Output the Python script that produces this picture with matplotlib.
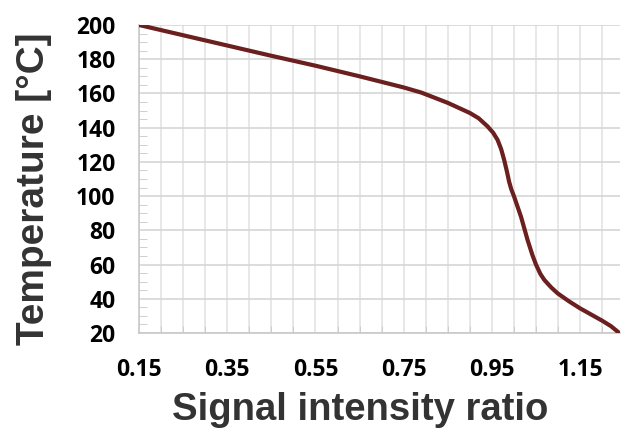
import numpy as np
import matplotlib
matplotlib.use("Agg")
import matplotlib.pyplot as plt
from matplotlib.ticker import MultipleLocator, FixedLocator

# values
ratio = [0.15, 0.25, 0.35, 0.45, 0.55, 0.65, 0.75, 0.79, 0.85, 0.90,
         0.92, 0.94, 0.953, 0.963, 0.971, 0.978, 0.984, 0.989, 0.994, 1.00,
         1.016, 1.031, 1.042, 1.05, 1.06, 1.069, 1.085, 1.099, 1.125, 1.15,
         1.175, 1.20, 1.22, 1.239]
temp = [200, 194, 188, 182, 176.2, 170, 163.5, 160.5, 154.5, 148.6,
        145.5, 140.8, 137, 132.8, 127.5, 121, 114.5, 108.5, 104, 100,
        88, 74.3, 65.5, 60, 54.5, 51, 46.5, 43.2, 38.5, 34.4,
        30.8, 27.2, 24, 20]

x_ticks = [0.15, 0.35, 0.55, 0.75, 0.95, 1.15]
y_ticks = [20, 40, 60, 80, 100, 120, 140, 160, 180, 200]

fig = plt.figure(figsize=(6.21, 4.28), dpi=100)
ax = fig.add_axes([0.224, 0.222, 0.774, 0.7196])

ax.plot(ratio, temp, color="#6b1f1f", lw=3, solid_capstyle="round",
        solid_joinstyle="round", zorder=3)

ax.set_xlim(0.15, 1.24)
ax.set_ylim(20, 200)
ax.xaxis.set_major_locator(FixedLocator(x_ticks))
ax.xaxis.set_minor_locator(MultipleLocator(0.05))
ax.yaxis.set_major_locator(FixedLocator(y_ticks))
ax.yaxis.set_minor_locator(MultipleLocator(5))

ax.grid(axis="x", which="both", color="#e3e3e3", lw=1.2)
ax.grid(axis="y", which="major", color="#d6d6d6", lw=1.2)
ax.set_axisbelow(True)

for s in ["top", "right"]:
    ax.spines[s].set_visible(False)
for s in ["left", "bottom"]:
    ax.spines[s].set_color("#c8c8c8")
    ax.spines[s].set_linewidth(1.2)

ax.tick_params(axis="both", which="both", direction="in", color="#c8c8c8")
ax.tick_params(axis="x", which="major", length=0, pad=18)
ax.tick_params(axis="x", which="minor", length=5)
ax.tick_params(axis="y", which="major", length=0, pad=17)
ax.tick_params(axis="y", which="minor", length=6)

for lab in ax.get_xticklabels() + ax.get_yticklabels():
    lab.set_fontfamily("Open Sans")
    lab.set_fontweight("bold")
    lab.set_fontsize(16.5)
    lab.set_color("black")

ax.set_xlabel("Signal intensity ratio", fontfamily="Liberation Sans",
              fontweight="bold", fontsize=27.5, color="#333333")
ax.xaxis.set_label_coords(0.46, -0.2825)
ax.xaxis.label.set_va("baseline")
ax.set_ylabel("Temperature [°C]", fontfamily="Liberation Sans",
              fontweight="bold", fontsize=28, color="#333333")
ax.yaxis.set_label_coords(-0.218, 0.467)
ax.yaxis.label.set_va("center")

fig.savefig("out.png", dpi=100)
